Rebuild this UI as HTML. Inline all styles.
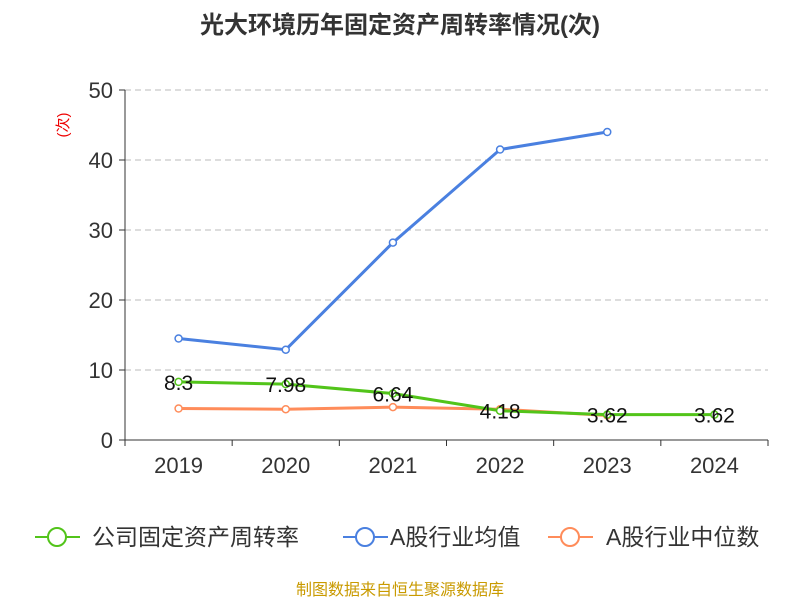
<!DOCTYPE html>
<html><head><meta charset="utf-8"><style>
body{margin:0;background:#fff;}
svg text{font-family:"Liberation Sans","Noto Sans CJK SC",sans-serif;}
</style></head><body>
<svg id="chart" width="800" height="600">
<text x="400" y="33" text-anchor="middle" font-size="24" font-weight="bold" fill="#333">光大环境历年固定资产周转率情况(次)</text>
<text x="0" y="0" transform="translate(68,125) rotate(-90)" text-anchor="middle" font-size="15" fill="#e00">(次)</text>
<g id="grid"></g><g id="axes"></g><g id="series"></g>
<g>
<g><line x1="35" y1="537" x2="80" y2="537" stroke="#52c41a" stroke-width="2"/><circle cx="57" cy="537" r="9" fill="#fff" stroke="#52c41a" stroke-width="2"/><text x="92" y="545" font-size="23" fill="#333">公司固定资产周转率</text></g>
<g><line x1="343" y1="537" x2="388" y2="537" stroke="#4a80e0" stroke-width="2"/><circle cx="365" cy="537" r="9" fill="#fff" stroke="#4a80e0" stroke-width="2"/><text x="390" y="545" font-size="23" fill="#333">A股行业均值</text></g>
<g><line x1="548" y1="537" x2="593" y2="537" stroke="#ff8c5a" stroke-width="2"/><circle cx="570" cy="537" r="9" fill="#fff" stroke="#ff8c5a" stroke-width="2"/><text x="606" y="545" font-size="23" fill="#333">A股行业中位数</text></g>
</g>
<text x="400" y="595" text-anchor="middle" font-size="16" fill="#c99a00">制图数据来自恒生聚源数据库</text>
</svg>
<script>
const categories=["2019","2020","2021","2022","2023","2024"];
const companyValues=[8.3,7.98,6.64,4.18,3.62,3.62];
const avgValues=[14.5,12.9,28.2,41.5,44,null];
const medianValues=[4.5,4.4,4.7,4.4,3.5,null];
const yTicks=[0,10,20,30,40,50];
const NS="http://www.w3.org/2000/svg";
const x0=125,x1=768,y0=440,y1=90,yMax=50;
const bw=(x1-x0)/categories.length;
const xs=i=>x0+bw*(i+0.5);
const ys=v=>y0-(v/yMax)*(y0-y1);
function mk(tag,attrs,parent){const e=document.createElementNS(NS,tag);for(const k in attrs)e.setAttribute(k,attrs[k]);parent.appendChild(e);return e;}
const grid=document.getElementById('grid'),axes=document.getElementById('axes'),series=document.getElementById('series');
yTicks.forEach(t=>{
 if(t>0){const g=mk('line',{x1:x0,x2:x1,y1:ys(t),y2:ys(t),stroke:'#bbb','stroke-dasharray':'6,4'},grid);
 
 }
 const tk=mk('line',{x1:x0-6,x2:x0,y1:ys(t),y2:ys(t),stroke:'#333'},axes);
 
 
 const lb=mk('text',{x:x0-12,y:ys(t)+8,'text-anchor':'end','font-size':'22',fill:'#333'},axes);lb.textContent=t;
 
 
});
const ya=mk('line',{x1:x0,x2:x0,y1:y1,y2:y0,stroke:'#333'},axes);


const xa=mk('line',{x1:x0,x2:x1,y1:y0,y2:y0,stroke:'#333'},axes);


for(let i=0;i<=categories.length;i++){const t=mk('line',{x1:x0+bw*i,x2:x0+bw*i,y1:y0,y2:y0+6,stroke:'#333'},axes);
 
 }
categories.forEach((c,i)=>{const l=mk('text',{x:xs(i),y:y0+33,'text-anchor':'middle','font-size':'22',fill:'#333'},axes);l.textContent=c;
 
 });
function draw(vals,color,name,labels){
 const pts=vals.map((v,i)=>v==null?null:[xs(i),ys(v)]).filter(p=>p);
 const pl=mk('polyline',{points:pts.map(p=>p.join(',')).join(' '),fill:'none',stroke:color,'stroke-width':3},series);
 
 
 vals.forEach((v,i)=>{if(v==null)return;
  const c=mk('circle',{cx:xs(i),cy:ys(v),r:3.5,fill:'#fff',stroke:color,'stroke-width':1.5},series);
  
  
  if(labels){const t=mk('text',{x:xs(i),y:ys(v)+8,'text-anchor':'middle','font-size':'21',fill:'#111'},series);t.textContent=v;
   
   }
 });
}
draw(avgValues,'#4a80e0','industry-avg',false);
draw(medianValues,'#ff8c5a','industry-median',false);
draw(companyValues,'#52c41a','company',true);
</script>
</body></html>
